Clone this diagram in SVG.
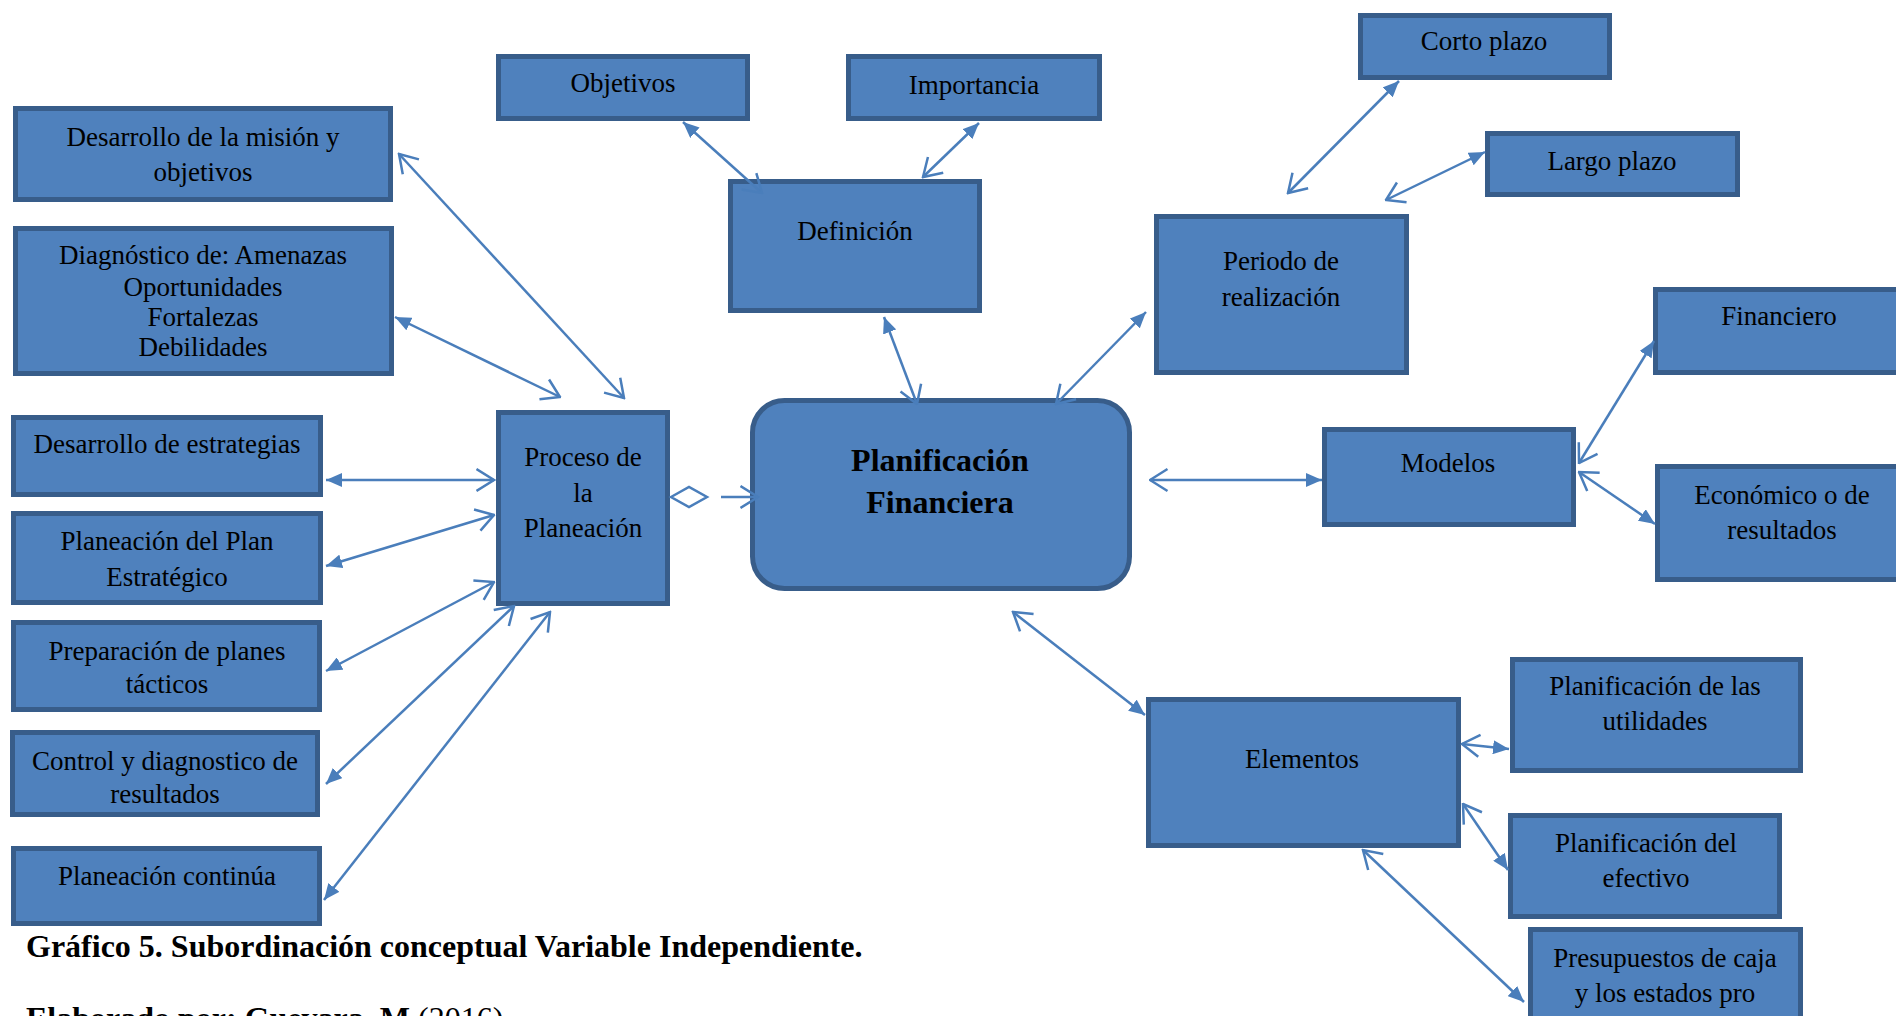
<svg xmlns="http://www.w3.org/2000/svg" width="1896" height="1016" viewBox="0 0 1896 1016">
<style>
.box{fill:#4F81BD;stroke:#385D8A;stroke-width:5}
.t{font-family:"Liberation Serif","Times New Roman",serif;font-size:27px;fill:#000;text-anchor:middle}
.tb{font-family:"Liberation Serif","Times New Roman",serif;font-size:32px;font-weight:bold;fill:#000;text-anchor:middle}
.cap{font-family:"Liberation Serif","Times New Roman",serif;font-size:32px;font-weight:bold;fill:#000}
.c{stroke:#4A7EBB;stroke-width:2.5;fill:none}
.fo{marker-start:url(#f);marker-end:url(#o)}
.of{marker-start:url(#o);marker-end:url(#f)}
.oo{marker-start:url(#o);marker-end:url(#o)}
</style>
<defs>
<marker id="f" viewBox="0 0 16 14" refX="16" refY="7" markerWidth="16" markerHeight="14" markerUnits="userSpaceOnUse" orient="auto-start-reverse">
<path d="M0,0 L16,7 L0,14 z" fill="#4A7EBB"/>
</marker>
<marker id="o" viewBox="0 0 20 26" refX="18.5" refY="13" markerWidth="20" markerHeight="26" markerUnits="userSpaceOnUse" orient="auto-start-reverse">
<path d="M1,2 L18.5,13 L1,24" fill="none" stroke="#4A7EBB" stroke-width="2.5"/>
</marker>
</defs>
<rect width="1896" height="1016" fill="#fff"/>

<g id="n-objetivos"><rect class="box" x="498.5" y="56.5" width="249" height="62"/><text class="t" x="623" y="92">Objetivos</text></g>
<g id="n-importancia"><rect class="box" x="848.5" y="56.5" width="251" height="62"/><text class="t" x="974" y="94">Importancia</text></g>
<g id="n-mision"><rect class="box" x="15.5" y="108.5" width="375" height="91"/><text class="t" x="203" y="146">Desarrollo de la misión y</text><text class="t" x="203" y="181">objetivos</text></g>
<g id="n-diagnostico"><rect class="box" x="15.5" y="228.5" width="376" height="145"/><text class="t" x="203" y="264">Diagnóstico de: Amenazas</text><text class="t" x="203" y="296">Oportunidades</text><text class="t" x="203" y="326">Fortalezas</text><text class="t" x="203" y="356">Debilidades</text></g>
<g id="n-definicion"><rect class="box" x="730.5" y="181.5" width="249" height="129"/><text class="t" x="855" y="240">Definición</text></g>
<g id="n-corto"><rect class="box" x="1360.5" y="15.5" width="249" height="62"/><text class="t" x="1484" y="50">Corto plazo</text></g>
<g id="n-largo"><rect class="box" x="1487.5" y="133.5" width="250" height="61"/><text class="t" x="1612" y="170">Largo plazo</text></g>
<g id="n-periodo"><rect class="box" x="1156.5" y="216.5" width="250" height="156"/><text class="t" x="1281" y="270">Periodo de</text><text class="t" x="1281" y="306">realización</text></g>
<g id="n-financiero"><rect class="box" x="1655.5" y="289.5" width="252" height="83"/><text class="t" x="1779" y="325">Financiero</text></g>
<g id="n-economico"><rect class="box" x="1657.5" y="466.5" width="252" height="113"/><text class="t" x="1782" y="504">Económico o de</text><text class="t" x="1782" y="539">resultados</text></g>
<g id="n-modelos"><rect class="box" x="1324.5" y="429.5" width="249" height="95"/><text class="t" x="1448" y="472">Modelos</text></g>
<g id="n-planif"><rect class="box" x="752.5" y="400.5" width="377" height="188" rx="32"/><text class="tb" x="940" y="471">Planificación</text><text class="tb" x="940" y="513">Financiera</text></g>
<g id="n-proceso"><rect class="box" x="498.5" y="412.5" width="169" height="191"/><text class="t" x="583" y="466">Proceso de</text><text class="t" x="583" y="502">la</text><text class="t" x="583" y="537">Planeación</text></g>
<g id="n-estrategias"><rect class="box" x="13.5" y="417.5" width="307" height="77"/><text class="t" x="167" y="453">Desarrollo de estrategias</text></g>
<g id="n-plan-estrategico"><rect class="box" x="13.5" y="513.5" width="307" height="89"/><text class="t" x="167" y="550">Planeación del Plan</text><text class="t" x="167" y="586">Estratégico</text></g>
<g id="n-tacticos"><rect class="box" x="13.5" y="622.5" width="306" height="87"/><text class="t" x="167" y="660">Preparación de planes</text><text class="t" x="167" y="693">tácticos</text></g>
<g id="n-control"><rect class="box" x="12.5" y="732.5" width="305" height="82"/><text class="t" x="165" y="770">Control y diagnostico de</text><text class="t" x="165" y="803">resultados</text></g>
<g id="n-continua"><rect class="box" x="13.5" y="848.5" width="306" height="75"/><text class="t" x="167" y="885">Planeación continúa</text></g>
<g id="n-utilidades"><rect class="box" x="1512.5" y="659.5" width="288" height="111"/><text class="t" x="1655" y="695">Planificación de las</text><text class="t" x="1655" y="730">utilidades</text></g>
<g id="n-elementos"><rect class="box" x="1148.5" y="699.5" width="310" height="146"/><text class="t" x="1302" y="768">Elementos</text></g>
<g id="n-efectivo"><rect class="box" x="1510.5" y="815.5" width="269" height="101"/><text class="t" x="1646" y="852">Planificación del</text><text class="t" x="1646" y="887">efectivo</text></g>
<g id="n-presupuestos"><rect class="box" x="1530.5" y="929.5" width="270" height="100"/><text class="t" x="1665" y="967">Presupuestos de caja</text><text class="t" x="1665" y="1002">y los estados pro</text></g>

<g id="connectors">
<line class="c fo" x1="683" y1="122" x2="762" y2="193"/>
<line class="c fo" x1="979" y1="123" x2="923" y2="177"/>
<line class="c fo" x1="884" y1="317" x2="917" y2="404"/>
<line class="c of" x1="1056" y1="404" x2="1146" y2="312"/>
<line class="c of" x1="1288" y1="193" x2="1399" y2="81"/>
<line class="c of" x1="1386" y1="200" x2="1485" y2="152"/>
<line class="c of" x1="1150" y1="480" x2="1322" y2="480"/>
<line class="c of" x1="1579" y1="463" x2="1654" y2="341"/>
<line class="c of" x1="1579" y1="472" x2="1655" y2="524"/>
<line class="c of" x1="1013" y1="612" x2="1145" y2="715"/>
<line class="c of" x1="1462" y1="744" x2="1509" y2="749"/>
<line class="c of" x1="1463" y1="804" x2="1508" y2="870"/>
<line class="c of" x1="1363" y1="850" x2="1524" y2="1002"/>
<line class="c oo" x1="399" y1="154" x2="624" y2="398"/>
<line class="c fo" x1="395" y1="317" x2="560" y2="397"/>
<line class="c fo" x1="326" y1="480" x2="494" y2="480"/>
<line class="c fo" x1="326" y1="566" x2="494" y2="515"/>
<line class="c fo" x1="326" y1="671" x2="494" y2="582"/>
<line class="c fo" x1="326" y1="784" x2="514" y2="606"/>
<line class="c fo" x1="324" y1="900" x2="550" y2="612"/>
<path class="c" d="M671,497 L689,487 L707,497 L689,507 Z"/>
<line class="c" x1="721" y1="497" x2="758" y2="497" marker-end="url(#o)"/>
</g>

<g id="caption">
<text class="cap" x="26" y="957">Gráfico 5. Subordinación conceptual Variable Independiente.</text>
<text class="cap" x="26" y="1029">Elaborado por: Guevara, M <tspan font-weight="normal">(2016).</tspan></text>
</g>
</svg>
